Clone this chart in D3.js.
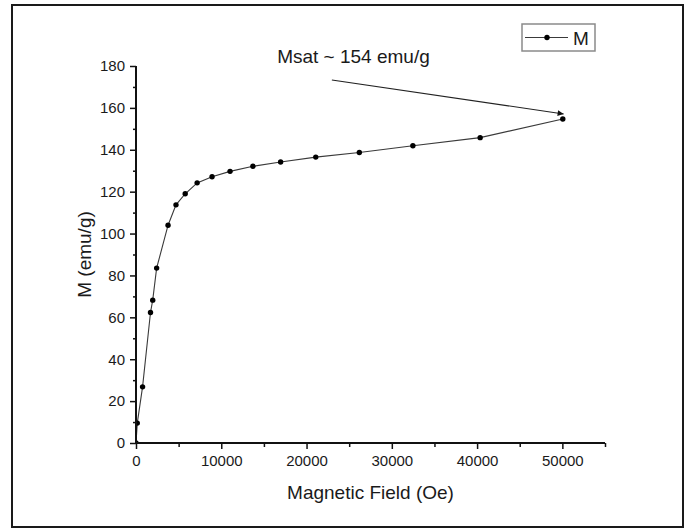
<!DOCTYPE html>
<html>
<head>
<meta charset="utf-8">
<script src="https://cdn.jsdelivr.net/npm/d3@7"></script>
<style>
  html, body { margin: 0; padding: 0; background: #fff; }
  svg { display: block; font-family: "Liberation Sans", Arial, sans-serif; }
</style>
</head>
<body>
<svg id="chart" width="688" height="531"></svg>
<script>
// Magnetization curve M(H)
const field = [0, 150, 770, 1700, 1960, 2420, 3760, 4690, 5770, 7170, 8920,
               11030, 13710, 16960, 21080, 26190, 32470, 40360, 50050];
const magnetization = [0, 9.5, 26.8, 62.3, 68.2, 83.5, 104.0, 113.7, 119.0, 124.2, 127.1,
                       129.7, 132.1, 134.2, 136.5, 138.7, 141.9, 145.8, 154.7];

const xTicks = [0, 10000, 20000, 30000, 40000, 50000];
const yTicks = [0, 20, 40, 60, 80, 100, 120, 140, 160, 180];
const xMinorTicks = [5000, 15000, 25000, 35000, 45000, 55000];
const yMinorTicks = [10, 30, 50, 70, 90, 110, 130, 150, 170];

const seriesName = "M";
const xTitle = "Magnetic Field (Oe)";
const yTitle = "M (emu/g)";
const noteText = "Msat ~ 154 emu/g";
// annotation anchors in data units: text start, arrow tail, arrow head
const notePos = [16550, 181.6];
const arrowFrom = [22970, 173.3];
const arrowTo = [50150, 157.1];

const svg = d3.select("#chart");
const mLeft = 136, mRight = 605, mTop = 66, mBottom = 443;

const x = d3.scaleLinear().domain([0, 55000]).range([mLeft, mRight]);
const y = d3.scaleLinear().domain([0, 180]).range([mBottom, mTop]);

// outer frame
svg.append("rect")
  .attr("x", 12).attr("y", 5).attr("width", 671).attr("height", 522)
  .attr("fill", "none").attr("stroke", "#1a1a1a").attr("stroke-width", 2);

const defs = svg.append("defs");
defs.append("clipPath").attr("id", "plotClip")
  .append("rect").attr("x", mLeft).attr("y", mTop - 10)
  .attr("width", mRight - mLeft + 10).attr("height", mBottom - mTop + 10);

defs.append("marker")
  .attr("id", "arrowHead").attr("viewBox", "0 0 10 10")
  .attr("refX", 10).attr("refY", 5)
  .attr("markerWidth", 9).attr("markerHeight", 6)
  .attr("markerUnits", "userSpaceOnUse")
  .attr("orient", "auto")
  .append("path").attr("d", "M0,0 L10,5 L0,10 Z").attr("fill", "#111");

const pts = field.map((f, i) => [f, magnetization[i]]);

const plot = svg.append("g").attr("clip-path", "url(#plotClip)");
plot.append("path")
  .datum(pts)
  .attr("fill", "none").attr("stroke", "#3a3a3a").attr("stroke-width", 1.1)
  .attr("d", d3.line().x(d => x(d[0])).y(d => y(d[1])));
plot.selectAll("circle").data(pts).join("circle")
  .attr("cx", d => x(d[0])).attr("cy", d => y(d[1]))
  .attr("r", 2.7).attr("fill", "#000");

// axes
const xAxis = svg.append("g").attr("transform", `translate(0,${mBottom})`)
  .call(d3.axisBottom(x).tickValues(xTicks).tickSize(6).tickPadding(6).tickFormat(d3.format("d")));
const xMinor = svg.append("g").attr("transform", `translate(0,${mBottom})`)
  .call(d3.axisBottom(x).tickValues(xMinorTicks).tickSize(4).tickFormat(""));
const yAxis = svg.append("g").attr("transform", `translate(${mLeft},0)`)
  .call(d3.axisLeft(y).tickValues(yTicks).tickSize(6).tickPadding(5).tickFormat(d3.format("d")));
const yMinor = svg.append("g").attr("transform", `translate(${mLeft},0)`)
  .call(d3.axisLeft(y).tickValues(yMinorTicks).tickSize(3).tickFormat(""));

[xAxis, xMinor, yAxis, yMinor].forEach(g => {
  g.select(".domain").attr("stroke", "#111").attr("stroke-width", 2);
  g.selectAll(".tick line").attr("stroke", "#111").attr("stroke-width", 1.5);
  g.selectAll(".tick text").attr("font-size", 15).attr("fill", "#1a1a1a")
    .attr("font-family", "'Liberation Sans', Arial, sans-serif");
});
xAxis.select(".domain").attr("d", `M${mLeft},0H${mRight}`);
xMinor.select(".domain").remove();
yAxis.select(".domain").attr("d", `M0,${mBottom}V${mTop}`);
yMinor.select(".domain").remove();

// axis titles
svg.append("text")
  .attr("x", (mLeft + mRight) / 2).attr("y", 499)
  .attr("text-anchor", "middle").attr("font-size", 19).attr("fill", "#1a1a1a")
  .text(xTitle);
svg.append("text")
  .attr("transform", `translate(91,${(mTop + mBottom) / 2}) rotate(-90)`)
  .attr("text-anchor", "middle").attr("font-size", 19).attr("fill", "#1a1a1a")
  .text(yTitle);

// annotation
svg.append("text")
  .attr("x", x(notePos[0])).attr("y", y(notePos[1]))
  .attr("font-size", 19).attr("fill", "#1a1a1a")
  .text(noteText);
svg.append("line")
  .attr("x1", x(arrowFrom[0])).attr("y1", y(arrowFrom[1]))
  .attr("x2", x(arrowTo[0])).attr("y2", y(arrowTo[1]))
  .attr("stroke", "#222").attr("stroke-width", 1.1)
  .attr("marker-end", "url(#arrowHead)");

// legend
const lg = svg.append("g").attr("transform", "translate(522,24)");
lg.append("rect").attr("width", 73).attr("height", 27)
  .attr("fill", "#fff").attr("stroke", "#8a8a8a").attr("stroke-width", 1.5);
lg.append("line").attr("x1", 3).attr("x2", 46).attr("y1", 13.5).attr("y2", 13.5)
  .attr("stroke", "#3a3a3a").attr("stroke-width", 1.1);
lg.append("circle").attr("cx", 25).attr("cy", 13.5).attr("r", 2.7).attr("fill", "#000");
lg.append("text").attr("x", 51).attr("y", 21).attr("font-size", 19).attr("fill", "#1a1a1a")
  .text(seriesName);
</script>
</body>
</html>
